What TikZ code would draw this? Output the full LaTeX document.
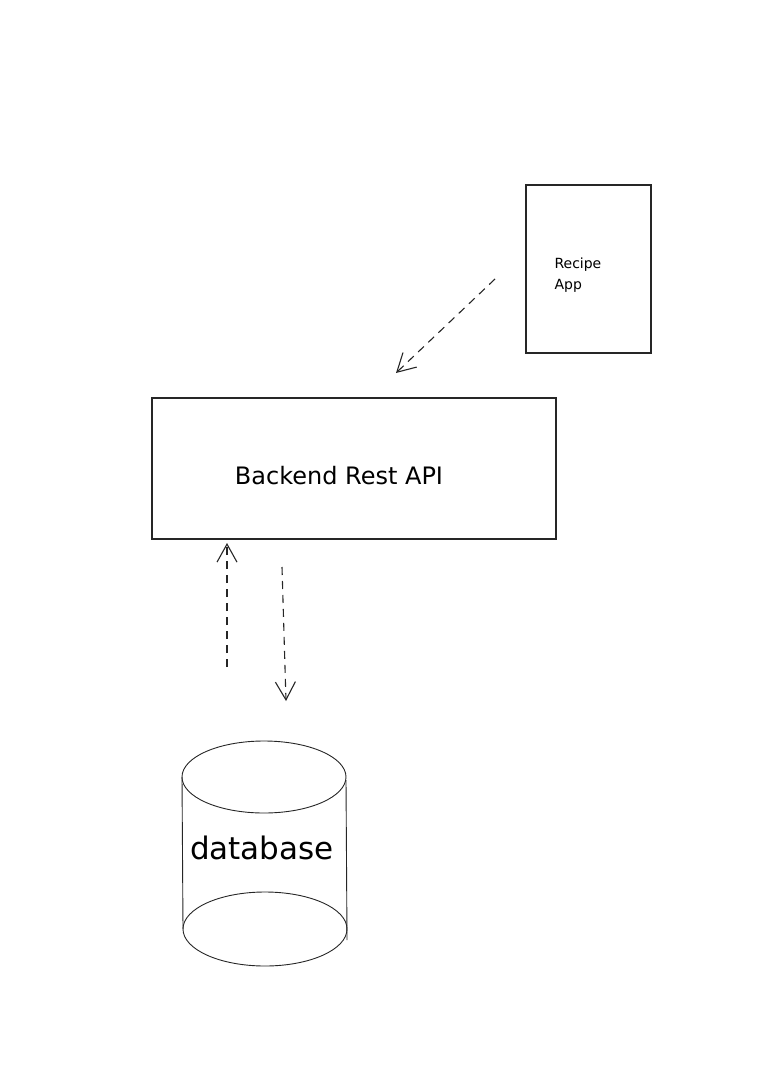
\documentclass[tikz,border=0pt]{standalone}
\usepackage{fontspec}
\setmainfont{DejaVu Sans}
\usepackage{tikz}
\usetikzlibrary{arrows.meta}

\tikzset{
  box/.style={draw=black!85, line width=1.2pt},
  flow/.style={draw=black!85, line width=1.1pt, dash pattern=on 8pt off 6pt,
    -{Straight Barb[length=18pt, width=20pt, line width=1.1pt]}},
}

\begin{document}
\begin{tikzpicture}[x=1pt, y=-1pt]
  \useasboundingbox (0, 0) rectangle (778, 1070);
  % client box
  \draw[box] (526, 185) rectangle (651, 353);
  \node[align=left, anchor=west, font=\fontsize{14}{21}\selectfont] (app) at (551, 275) {Recipe\\App};
  % api box
  \draw[box] (152, 398) rectangle (556, 539);
  \node[font=\fontsize{24}{28}\selectfont] (api) at (339, 476) {Backend Rest API};
  % database cylinder
  \draw[box, line width=0.9pt] (264, 777) ellipse (82 and 36);
  \draw[box, line width=0.9pt] (265, 929) ellipse (82 and 37);
  \draw[box, line width=0.9pt] (182, 777) -- (183, 929);
  \draw[box, line width=0.9pt] (346, 780) -- (347, 940);
  \node[font=\fontsize{31}{36}\selectfont] (db) at (262, 848) {database};
  % arrow ends
  \coordinate (appout) at (495, 279);
  \coordinate (apiin) at (396, 373);
  \coordinate (dbout) at (227, 667);
  \coordinate (apiup) at (227, 543);
  \coordinate (apiout) at (282, 567);
  \coordinate (dbin) at (286, 701);
  \draw[flow] (appout) -- (apiin);
  \draw[flow] (dbout) -- (apiup);
  \draw[flow] (apiout) -- (dbin);
\end{tikzpicture}
\end{document}
